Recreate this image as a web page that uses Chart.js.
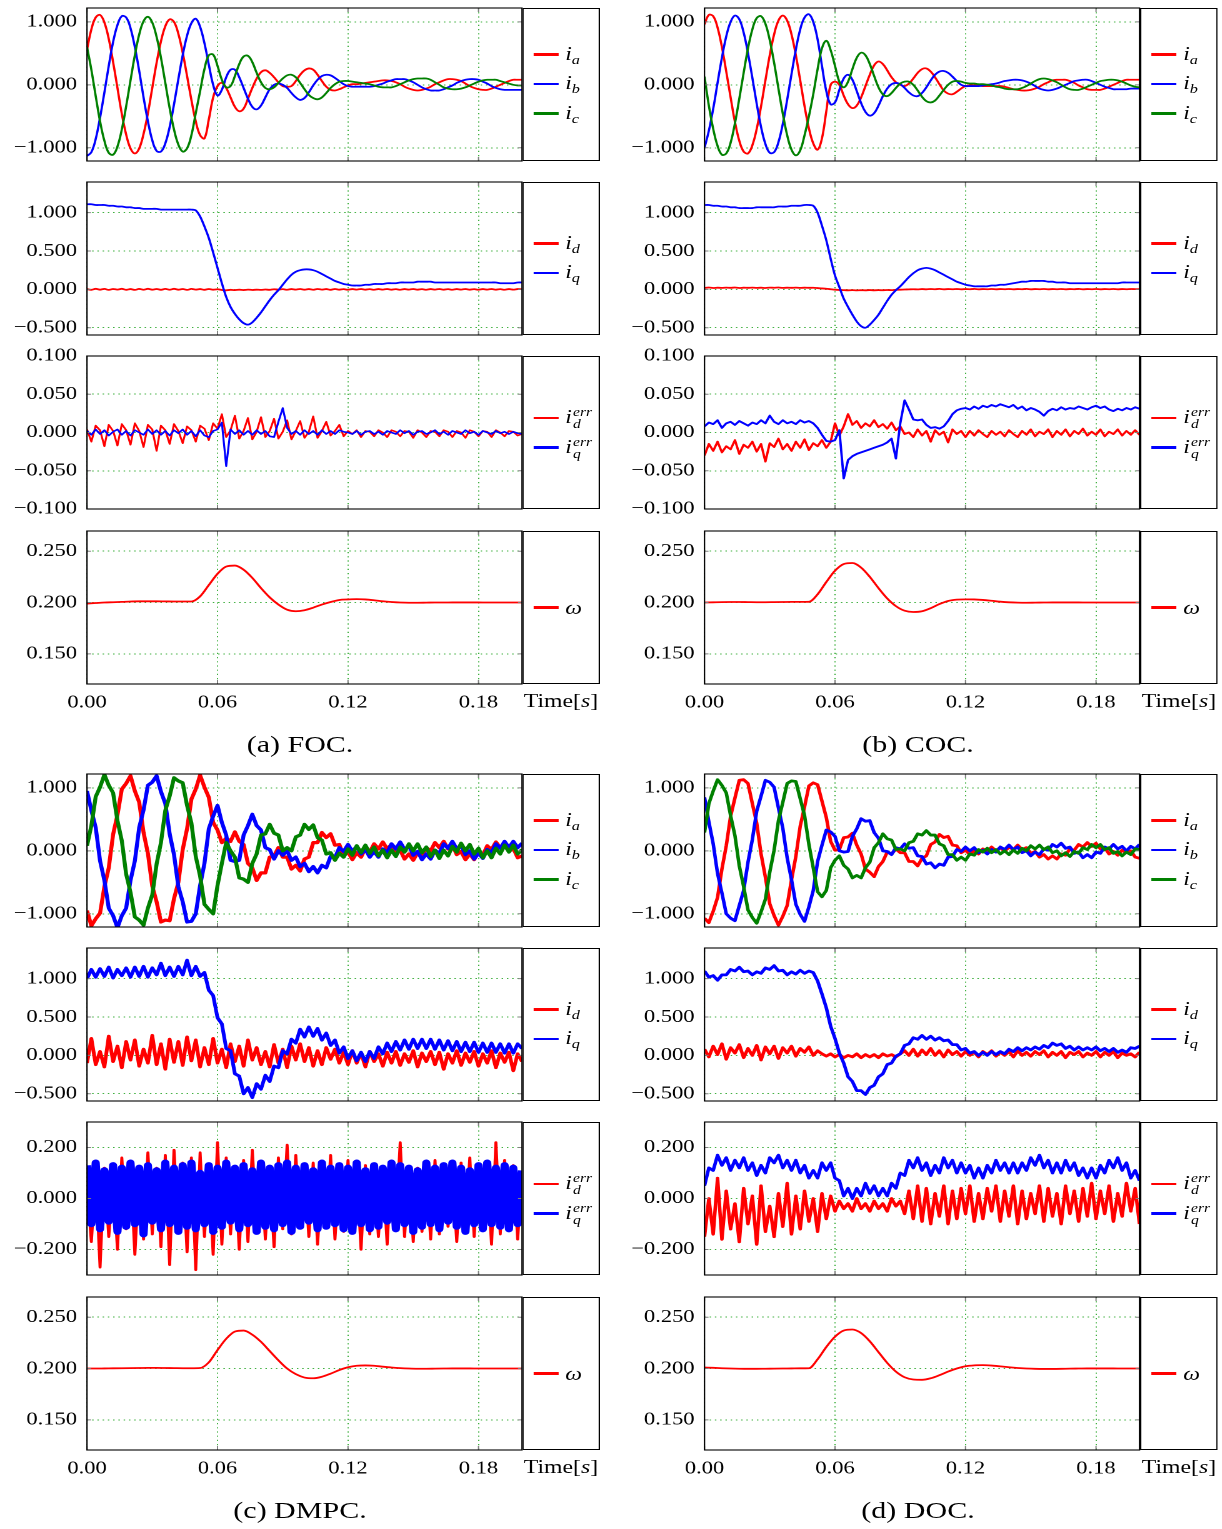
<!DOCTYPE html>
<html>
<head>
<meta charset="utf-8">
<title>Current and speed responses</title>
<script src="https://cdn.jsdelivr.net/npm/chart.js@4.4.1/dist/chart.umd.min.js"></script>
<style>
  html, body { margin: 0; padding: 0; background: #fff; }
  body { width: 1222px; height: 1529px; overflow: hidden; position: relative; }
  /* the whole figure is drawn narrow and widened by SX */
  #fig { position: absolute; left: 0; top: 0; width: 978px; height: 1529px;
         transform: scaleX(1.25); transform-origin: 0 0;
         font-family: "Liberation Serif", "Times New Roman", serif; color: #000; }
  #fig canvas { position: absolute; }
  .legend { position: absolute; box-sizing: border-box; border: 1px solid #000;
            display: flex; flex-direction: column; justify-content: center; }
  .entry { display: flex; align-items: center; height: 29.5px; }
  .swatch { display: inline-block; height: 2.4px; }
  .lab { font-size: 19px; line-height: 1; white-space: nowrap; }
  .lab i { font-style: italic; }
  .lab sub { font-size: 13px; font-style: italic; vertical-align: -4px; }
  .ss { display: inline-flex; flex-direction: column; font-style: italic; font-size: 12.5px;
        line-height: 12px; vertical-align: 7px; margin-left: 1px; }
  .time { position: absolute; text-align: center; font-size: 19px; line-height: 20px; }
  .caption { position: absolute; text-align: center; font-size: 24px; line-height: 28px; }
</style>
</head>
<body>
<div id="fig"></div>
<script>
// ---- time bases [s] ----
const t2 = [
  0.000, 0.002, 0.004, 0.006, 0.008, 0.010, 0.012, 0.014, 0.016, 0.018,
  0.020, 0.022, 0.024, 0.026, 0.028, 0.030, 0.032, 0.034, 0.036, 0.038,
  0.040, 0.042, 0.044, 0.046, 0.048, 0.050, 0.052, 0.054, 0.056, 0.058,
  0.060, 0.062, 0.064, 0.066, 0.068, 0.070, 0.072, 0.074, 0.076, 0.078,
  0.080, 0.082, 0.084, 0.086, 0.088, 0.090, 0.092, 0.094, 0.096, 0.098,
  0.100, 0.102, 0.104, 0.106, 0.108, 0.110, 0.112, 0.114, 0.116, 0.118,
  0.120, 0.122, 0.124, 0.126, 0.128, 0.130, 0.132, 0.134, 0.136, 0.138,
  0.140, 0.142, 0.144, 0.146, 0.148, 0.150, 0.152, 0.154, 0.156, 0.158,
  0.160, 0.162, 0.164, 0.166, 0.168, 0.170, 0.172, 0.174, 0.176, 0.178,
  0.180, 0.182, 0.184, 0.186, 0.188, 0.190, 0.192, 0.194, 0.196, 0.198,
  0.200
];
const t4 = [
  0.000, 0.004, 0.008, 0.012, 0.016, 0.020, 0.024, 0.028, 0.032, 0.036,
  0.040, 0.044, 0.048, 0.052, 0.056, 0.060, 0.064, 0.068, 0.072, 0.076,
  0.080, 0.084, 0.088, 0.092, 0.096, 0.100, 0.104, 0.108, 0.112, 0.116,
  0.120, 0.124, 0.128, 0.132, 0.136, 0.140, 0.144, 0.148, 0.152, 0.156,
  0.160, 0.164, 0.168, 0.172, 0.176, 0.180, 0.184, 0.188, 0.192, 0.196,
  0.200
];

// ---- FOC ----
const focIa = [
  0.56, 0.88, 1.07, 1.11, 0.99, 0.73, 0.36, -0.05, -0.46, -0.79,
  -1.01, -1.09, -1.01, -0.78, -0.45, -0.05, 0.35, 0.69, 0.93, 1.04,
  1.00, 0.81, 0.51, 0.14, -0.24, -0.58, -0.80, -0.85, -0.55, -0.20,
  -0.02, 0.03, -0.05, -0.20, -0.35, -0.42, -0.38, -0.22, -0.05, 0.10,
  0.20, 0.23, 0.19, 0.12, 0.04, -0.02, -0.03, -0.02, 0.06, 0.16,
  0.23, 0.26, 0.24, 0.16, 0.06, -0.03, -0.08, -0.09, -0.07, -0.04,
  -0.01, 0.01, 0.01, 0.02, 0.03, 0.04, 0.05, 0.06, 0.07, 0.07,
  0.06, 0.04, 0.01, -0.03, -0.06, -0.08, -0.09, -0.08, -0.06, -0.03,
  0.01, 0.04, 0.07, 0.09, 0.09, 0.08, 0.06, 0.02, -0.02, -0.05,
  -0.07, -0.08, -0.08, -0.06, -0.03, 0.00, 0.03, 0.06, 0.08, 0.08,
  0.08
];
const focIb = [
  -1.13, -1.07, -0.86, -0.52, -0.12, 0.30, 0.68, 0.95, 1.09, 1.07,
  0.90, 0.60, 0.22, -0.20, -0.58, -0.88, -1.05, -1.06, -0.93, -0.67,
  -0.31, 0.09, 0.47, 0.78, 0.98, 1.05, 0.92, 0.66, 0.32, 0.00,
  -0.17, -0.08, 0.12, 0.24, 0.24, 0.12, -0.05, -0.22, -0.35, -0.39,
  -0.33, -0.20, -0.07, 0.00, 0.02, 0.00, -0.05, -0.13, -0.20, -0.24,
  -0.21, -0.12, -0.01, 0.08, 0.14, 0.16, 0.15, 0.11, 0.06, 0.01,
  -0.02, -0.03, -0.03, -0.03, -0.03, -0.03, -0.02, 0.00, 0.02, 0.05,
  0.07, 0.09, 0.09, 0.09, 0.07, 0.04, 0.00, -0.04, -0.07, -0.09,
  -0.09, -0.09, -0.07, -0.04, -0.01, 0.03, 0.06, 0.08, 0.09, 0.09,
  0.08, 0.05, 0.02, -0.02, -0.05, -0.07, -0.08, -0.08, -0.08, -0.08,
  -0.08
];
const focIc = [
  0.60, 0.24, -0.18, -0.58, -0.89, -1.08, -1.11, -0.98, -0.71, -0.34,
  0.07, 0.47, 0.80, 1.01, 1.08, 0.99, 0.76, 0.43, 0.03, -0.37,
  -0.71, -0.95, -1.06, -1.01, -0.80, -0.45, -0.10, 0.25, 0.47, 0.48,
  0.30, 0.08, -0.04, -0.02, 0.14, 0.33, 0.45, 0.46, 0.36, 0.19,
  0.04, -0.05, -0.07, -0.04, 0.03, 0.10, 0.15, 0.16, 0.12, 0.03,
  -0.07, -0.16, -0.21, -0.23, -0.20, -0.13, -0.05, 0.01, 0.05, 0.06,
  0.06, 0.05, 0.04, 0.03, 0.02, 0.01, -0.01, -0.03, -0.04, -0.04,
  -0.04, -0.02, 0.01, 0.04, 0.07, 0.09, 0.10, 0.10, 0.10, 0.08,
  0.04, 0.00, -0.04, -0.06, -0.07, -0.07, -0.06, -0.04, -0.01, 0.02,
  0.05, 0.07, 0.08, 0.08, 0.08, 0.06, 0.04, 0.02, 0.00, -0.01,
  -0.01
];
const focId = [
  0.004, -0.006, 0.007, -0.004, 0.006, -0.007, 0.005, -0.003, 0.007, -0.006,
  0.004, -0.007, 0.006, -0.005, 0.007, -0.004, 0.005, -0.006, 0.006, -0.005,
  0.007, -0.004, 0.005, -0.007, 0.006, -0.003, 0.004, -0.006, 0.005, -0.004,
  0.002, -0.008, -0.012, -0.006, -0.010, -0.004, -0.009, -0.003, -0.008, -0.004,
  -0.007, -0.002, -0.006, 0.002, -0.004, 0.003, -0.005, 0.004, -0.003, 0.005,
  -0.004, 0.004, -0.005, 0.005, -0.003, 0.004, -0.006, 0.005, -0.004, 0.003,
  -0.005, 0.004, -0.003, 0.005, -0.004, 0.003, -0.005, 0.004, -0.003, 0.005,
  -0.004, 0.003, -0.005, 0.004, -0.003, 0.005, -0.004, 0.003, -0.005, 0.004,
  -0.003, 0.005, -0.004, 0.003, -0.005, 0.004, -0.003, 0.005, -0.004, 0.003,
  -0.005, 0.004, -0.003, 0.005, -0.004, 0.003, -0.005, 0.004, -0.003, 0.004,
  0.002
];
const focIq = [
  1.11, 1.11, 1.10, 1.10, 1.10, 1.09, 1.09, 1.08, 1.08, 1.07,
  1.07, 1.06, 1.06, 1.05, 1.05, 1.05, 1.05, 1.04, 1.04, 1.04,
  1.04, 1.04, 1.04, 1.04, 1.04, 1.03, 0.95, 0.82, 0.67, 0.48,
  0.28, 0.08, -0.10, -0.23, -0.32, -0.39, -0.44, -0.46, -0.43, -0.37,
  -0.30, -0.22, -0.14, -0.07, -0.01, 0.06, 0.13, 0.19, 0.23, 0.25,
  0.26, 0.26, 0.25, 0.23, 0.20, 0.17, 0.14, 0.11, 0.09, 0.07,
  0.06, 0.05, 0.05, 0.05, 0.06, 0.06, 0.07, 0.07, 0.07, 0.08,
  0.08, 0.08, 0.09, 0.09, 0.09, 0.09, 0.10, 0.10, 0.10, 0.10,
  0.09, 0.09, 0.09, 0.09, 0.09, 0.09, 0.09, 0.09, 0.09, 0.09,
  0.09, 0.09, 0.09, 0.09, 0.09, 0.08, 0.08, 0.08, 0.08, 0.09,
  0.09
];
const focIdErr = [
  0.004, -0.012, 0.009, 0.003, -0.018, 0.010, 0.002, -0.017, 0.011, 0.003,
  -0.016, 0.012, 0.002, -0.019, 0.010, 0.004, -0.024, 0.009, 0.003, -0.015,
  0.011, 0.002, -0.014, 0.008, 0.003, -0.012, 0.009, 0.005, -0.010, 0.012,
  0.005, 0.024, -0.006, 0.003, 0.022, -0.008, 0.002, 0.019, -0.009, 0.001,
  0.020, -0.006, 0.002, 0.018, -0.008, 0.001, 0.016, -0.009, 0.002, 0.015,
  -0.007, 0.001, 0.021, -0.007, 0.002, 0.014, -0.004, 0.002, 0.010, -0.005,
  0.002, -0.002, 0.003, -0.006, 0.002, 0.001, -0.005, 0.003, 0.000, -0.006,
  0.003, 0.001, -0.005, 0.002, 0.001, -0.007, 0.003, 0.000, -0.006, 0.002,
  0.001, -0.005, 0.003, 0.001, -0.006, 0.002, 0.000, -0.007, 0.003, 0.001,
  -0.005, 0.002, 0.001, -0.006, 0.003, 0.000, -0.005, 0.002, 0.001, -0.004,
  -0.002
];
const focIqErr = [
  0.002, -0.003, 0.004, -0.002, 0.003, -0.004, 0.001, 0.004, -0.003, 0.002,
  -0.004, 0.003, 0.000, -0.003, 0.004, -0.002, 0.003, -0.003, 0.002, -0.004,
  0.003, -0.001, 0.004, -0.003, 0.002, -0.005, 0.003, -0.004, -0.006, 0.002,
  0.004, 0.013, -0.044, 0.004, -0.002, 0.003, -0.003, 0.002, -0.003, 0.003,
  -0.002, 0.002, -0.005, -0.006, 0.014, 0.032, 0.006, -0.002, 0.002, -0.003,
  0.003, -0.002, 0.002, -0.003, 0.003, -0.002, 0.002, -0.002, 0.003, 0.001,
  0.000, -0.002, 0.002, -0.003, 0.001, 0.002, -0.002, 0.001, -0.003, 0.002,
  0.000, -0.002, 0.003, -0.001, 0.002, -0.003, 0.001, 0.002, -0.002, 0.000,
  0.003, -0.002, 0.001, -0.003, 0.002, 0.000, -0.002, 0.003, -0.001, 0.001,
  -0.003, 0.002, 0.000, -0.002, 0.002, -0.001, 0.001, -0.002, 0.001, -0.001,
  -0.002
];
const focW = [
  0.1990, 0.1995, 0.2000, 0.2003, 0.2006, 0.2010, 0.2012, 0.2012, 0.2012, 0.2011,
  0.2010, 0.2010, 0.2010, 0.2060, 0.2170, 0.2280, 0.2350, 0.2360, 0.2320, 0.2240,
  0.2140, 0.2050, 0.1980, 0.1930, 0.1915, 0.1925, 0.1950, 0.1980, 0.2005, 0.2025,
  0.2030, 0.2033, 0.2030, 0.2022, 0.2012, 0.2005, 0.2000, 0.1998, 0.1998, 0.1999,
  0.2000, 0.2000, 0.2001, 0.2001, 0.2001, 0.2001, 0.2000, 0.2000, 0.2000, 0.2000,
  0.2000
];

// ---- COC ----
const cocIa = [
  0.96, 1.11, 1.09, 0.91, 0.60, 0.21, -0.20, -0.59, -0.89, -1.06,
  -1.09, -0.96, -0.70, -0.34, 0.07, 0.47, 0.80, 1.02, 1.10, 1.02,
  0.80, 0.47, 0.07, -0.34, -0.69, -0.93, -1.03, -0.85, -0.42, 0.00,
  0.05, 0.00, -0.17, -0.31, -0.37, -0.33, -0.20, -0.02, 0.16, 0.31,
  0.37, 0.33, 0.23, 0.12, 0.04, 0.00, -0.02, 0.02, 0.10, 0.19,
  0.25, 0.26, 0.21, 0.12, 0.01, -0.09, -0.14, -0.15, -0.11, -0.06,
  -0.02, -0.01, -0.01, -0.01, -0.02, -0.02, -0.02, -0.02, -0.02, -0.03,
  -0.05, -0.07, -0.08, -0.09, -0.09, -0.08, -0.06, -0.03, 0.01, 0.04,
  0.07, 0.08, 0.08, 0.08, 0.06, 0.03, -0.01, -0.04, -0.07, -0.08,
  -0.08, -0.08, -0.06, -0.03, 0.00, 0.03, 0.06, 0.08, 0.08, 0.08,
  0.08
];
const cocIb = [
  -1.00, -0.73, -0.38, 0.03, 0.43, 0.77, 1.00, 1.10, 1.04, 0.83,
  0.50, 0.11, -0.30, -0.67, -0.94, -1.08, -1.07, -0.91, -0.62, -0.24,
  0.17, 0.56, 0.88, 1.07, 1.12, 1.00, 0.72, 0.30, -0.10, -0.31,
  -0.28, -0.08, 0.10, 0.16, 0.08, -0.10, -0.29, -0.43, -0.49, -0.45,
  -0.33, -0.18, -0.06, 0.01, 0.03, 0.01, -0.05, -0.12, -0.17, -0.18,
  -0.13, -0.04, 0.07, 0.16, 0.21, 0.22, 0.19, 0.13, 0.06, 0.00,
  -0.02, -0.02, -0.02, -0.02, -0.01, 0.00, 0.01, 0.02, 0.04, 0.06,
  0.07, 0.08, 0.08, 0.07, 0.05, 0.02, -0.02, -0.06, -0.08, -0.09,
  -0.08, -0.06, -0.03, 0.00, 0.03, 0.06, 0.07, 0.08, 0.08, 0.06,
  0.03, 0.00, -0.03, -0.05, -0.07, -0.07, -0.07, -0.07, -0.06, -0.06,
  -0.06
];
const cocIc = [
  0.13, -0.33, -0.70, -0.97, -1.11, -1.09, -0.92, -0.61, -0.22, 0.19,
  0.58, 0.88, 1.06, 1.09, 0.97, 0.71, 0.35, -0.06, -0.46, -0.80,
  -1.03, -1.12, -1.04, -0.80, -0.50, -0.15, 0.25, 0.58, 0.70, 0.55,
  0.30, 0.05, -0.04, 0.05, 0.25, 0.43, 0.51, 0.47, 0.33, 0.14,
  -0.04, -0.15, -0.18, -0.13, -0.05, 0.02, 0.05, 0.05, 0.00, -0.09,
  -0.19, -0.26, -0.28, -0.25, -0.17, -0.08, 0.00, 0.05, 0.06, 0.05,
  0.03, 0.02, 0.02, 0.01, 0.01, 0.00, -0.01, -0.03, -0.04, -0.06,
  -0.07, -0.07, -0.07, -0.05, -0.02, 0.02, 0.06, 0.09, 0.10, 0.09,
  0.07, 0.04, 0.00, -0.04, -0.07, -0.08, -0.08, -0.06, -0.03, 0.00,
  0.03, 0.06, 0.07, 0.08, 0.08, 0.07, 0.05, 0.02, -0.01, -0.03,
  -0.04
];
const cocId = [
  0.020, 0.024, 0.018, 0.022, 0.019, 0.023, 0.020, 0.024, 0.018, 0.022,
  0.020, 0.023, 0.019, 0.022, 0.018, 0.023, 0.021, 0.024, 0.019, 0.022,
  0.020, 0.023, 0.019, 0.022, 0.020, 0.021, 0.017, 0.012, 0.008, 0.002,
  -0.004, -0.008, -0.010, -0.012, -0.010, -0.013, -0.011, -0.012, -0.009, -0.012,
  -0.010, -0.011, -0.008, -0.010, -0.006, -0.004, -0.002, 0.000, 0.002, 0.000,
  0.004, 0.001, 0.005, 0.002, 0.006, 0.001, 0.004, 0.002, 0.005, 0.001,
  0.004, 0.002, 0.006, 0.001, 0.004, 0.002, 0.005, 0.001, 0.004, 0.002,
  0.005, 0.001, 0.004, 0.002, 0.006, 0.001, 0.004, 0.002, 0.005, 0.001,
  0.004, 0.002, 0.005, 0.001, 0.004, 0.002, 0.006, 0.001, 0.004, 0.002,
  0.005, 0.001, 0.004, 0.002, 0.005, 0.001, 0.004, 0.002, 0.005, 0.003,
  0.004
];
const cocIq = [
  1.10, 1.10, 1.09, 1.09, 1.08, 1.08, 1.07, 1.07, 1.06, 1.06,
  1.06, 1.06, 1.07, 1.07, 1.07, 1.07, 1.07, 1.08, 1.08, 1.08,
  1.09, 1.09, 1.09, 1.10, 1.10, 1.09, 1.00, 0.83, 0.64, 0.40,
  0.18, 0.03, -0.12, -0.23, -0.33, -0.42, -0.48, -0.50, -0.46, -0.40,
  -0.33, -0.24, -0.15, -0.07, -0.01, 0.04, 0.10, 0.16, 0.21, 0.25,
  0.27, 0.28, 0.27, 0.25, 0.22, 0.19, 0.16, 0.13, 0.10, 0.08,
  0.06, 0.05, 0.04, 0.04, 0.04, 0.04, 0.05, 0.05, 0.06, 0.06,
  0.07, 0.08, 0.09, 0.10, 0.10, 0.11, 0.11, 0.11, 0.11, 0.10,
  0.10, 0.09, 0.09, 0.09, 0.08, 0.08, 0.08, 0.08, 0.08, 0.08,
  0.08, 0.08, 0.08, 0.08, 0.08, 0.08, 0.09, 0.09, 0.09, 0.09,
  0.09
];
const cocIdErr = [
  -0.030, -0.015, -0.024, -0.012, -0.026, -0.018, -0.022, -0.010, -0.028, -0.016,
  -0.020, -0.012, -0.025, -0.015, -0.038, -0.014, -0.019, -0.008, -0.022, -0.015,
  -0.024, -0.012, -0.020, -0.009, -0.023, -0.014, -0.018, -0.010, -0.020, -0.012,
  0.012, -0.004, 0.008, 0.024, 0.010, 0.015, 0.006, 0.012, 0.008, 0.016,
  0.007, 0.011, 0.005, 0.013, 0.003, 0.008, -0.002, 0.000, -0.006, 0.004,
  -0.004, 0.002, -0.012, 0.003, -0.003, 0.001, -0.013, 0.004, -0.002, 0.002,
  -0.006, 0.002, -0.004, 0.003, -0.002, -0.006, 0.002, -0.003, 0.001, -0.005,
  0.003, -0.002, -0.006, 0.002, -0.003, 0.004, -0.005, 0.001, -0.002, 0.004,
  -0.006, 0.002, -0.003, 0.004, -0.005, 0.002, -0.002, 0.005, -0.004, 0.001,
  -0.003, 0.004, -0.005, 0.001, -0.002, 0.004, -0.004, 0.002, -0.003, 0.003,
  -0.003
];
const cocIqErr = [
  0.008, 0.013, 0.011, 0.016, 0.006, 0.012, 0.014, 0.010, 0.015, 0.012,
  0.009, 0.013, 0.011, 0.016, 0.012, 0.022, 0.014, 0.011, 0.016, 0.012,
  0.014, 0.011, 0.016, 0.013, 0.015, 0.012, 0.006, -0.003, -0.011, -0.012,
  -0.010, 0.003, -0.060, -0.036, -0.031, -0.028, -0.026, -0.024, -0.022, -0.020,
  -0.018, -0.016, -0.013, -0.008, -0.034, 0.012, 0.042, 0.030, 0.017, 0.016,
  0.017, 0.010, 0.006, 0.007, 0.005, 0.008, 0.015, 0.024, 0.029, 0.031,
  0.032, 0.030, 0.034, 0.031, 0.035, 0.033, 0.036, 0.034, 0.037, 0.035,
  0.033, 0.036, 0.031, 0.034, 0.029, 0.032, 0.030, 0.027, 0.022, 0.028,
  0.031, 0.029, 0.033, 0.030, 0.032, 0.031, 0.034, 0.032, 0.030, 0.033,
  0.035, 0.032, 0.034, 0.030, 0.028, 0.031, 0.029, 0.032, 0.030, 0.033,
  0.031
];
const cocW = [
  0.2000, 0.2002, 0.2004, 0.2005, 0.2005, 0.2004, 0.2003, 0.2003, 0.2004, 0.2005,
  0.2006, 0.2006, 0.2007, 0.2080, 0.2200, 0.2310, 0.2375, 0.2385, 0.2340, 0.2250,
  0.2140, 0.2040, 0.1965, 0.1920, 0.1908, 0.1915, 0.1945, 0.1985, 0.2015, 0.2028,
  0.2031, 0.2030, 0.2025, 0.2017, 0.2008, 0.2002, 0.1999, 0.1998, 0.1999, 0.2000,
  0.2001, 0.2001, 0.2001, 0.2001, 0.2000, 0.2000, 0.2000, 0.2000, 0.2000, 0.2000,
  0.2000
];

// ---- DMPC ----
const dmpcIa = [
  -0.95, -1.19, -1.08, -0.99, -0.57, -0.27, 0.26, 0.57, 0.98, 1.07,
  1.19, 0.95, 0.77, 0.29, -0.04, -0.56, -0.81, -1.13, -1.10, -1.11,
  -0.76, -0.50, 0.02, 0.35, 0.82, 0.98, 1.20, 1.01, 0.85, 0.45,
  0.33, 0.13, 0.20, 0.15, 0.30, 0.15, 0.10, -0.20, -0.27, -0.47,
  -0.35, -0.35, -0.10, -0.08, 0.05, -0.10, -0.10, -0.29, -0.23, -0.32,
  -0.13, -0.10, 0.13, 0.13, 0.29, 0.21, 0.27, 0.09, 0.10, -0.08,
  -0.02, -0.14, -0.03, -0.10, 0.04, -0.02, 0.11, 0.03, 0.14, 0.03,
  0.10, -0.04, 0.01, -0.13, -0.05, -0.15, -0.03, -0.09, 0.05, 0.00,
  0.13, 0.05, 0.15, 0.03, 0.09, -0.06, -0.01, -0.14, -0.05, -0.14,
  -0.01, -0.07, 0.08, 0.02, 0.14, 0.05, 0.13, -0.01, 0.04, -0.11,
  -0.08
];
const dmpcIb = [
  0.95, 0.64, 0.37, -0.16, -0.47, -0.91, -1.03, -1.22, -1.03, -0.91,
  -0.47, -0.16, 0.37, 0.65, 1.04, 1.09, 1.19, 0.94, 0.75, 0.27,
  -0.06, -0.57, -0.81, -1.13, -1.12, -1.00, -0.55, -0.20, 0.35, 0.55,
  0.72, 0.45, 0.25, -0.15, -0.17, -0.15, 0.25, 0.40, 0.58, 0.40,
  0.33, 0.05, 0.02, -0.13, 0.00, -0.07, 0.00, -0.15, -0.10, -0.25,
  -0.20, -0.33, -0.25, -0.35, -0.23, -0.27, -0.09, -0.11, 0.05, -0.01,
  0.10, -0.01, 0.07, -0.05, 0.02, -0.10, -0.01, -0.10, 0.03, -0.03,
  0.11, 0.03, 0.14, 0.02, 0.08, -0.07, -0.01, -0.14, -0.05, -0.13,
  0.01, -0.04, 0.11, 0.04, 0.15, 0.03, 0.09, -0.06, 0.00, -0.13,
  -0.04, -0.12, 0.02, -0.03, 0.11, 0.04, 0.15, 0.05, 0.15, 0.05,
  0.12
];
const dmpcIc = [
  0.08, 0.40, 0.86, 1.01, 1.21, 1.04, 0.92, 0.48, 0.16, -0.37,
  -0.66, -1.05, -1.10, -1.18, -0.91, -0.70, -0.21, 0.13, 0.64, 0.87,
  1.16, 1.11, 1.08, 0.72, 0.44, -0.09, -0.40, -0.85, -0.93, -1.00,
  -0.55, -0.20, 0.13, 0.00, -0.10, -0.43, -0.45, -0.50, -0.20, -0.05,
  0.25, 0.27, 0.42, 0.28, 0.25, 0.00, 0.05, 0.00, 0.22, 0.25,
  0.42, 0.34, 0.41, 0.21, 0.17, -0.05, -0.03, -0.15, -0.04, -0.10,
  0.03, -0.07, 0.08, -0.03, 0.09, -0.04, 0.06, -0.08, 0.01, -0.11,
  0.01, -0.09, 0.06, -0.02, 0.11, 0.00, 0.11, -0.03, 0.06, -0.09,
  0.01, -0.12, 0.01, -0.08, 0.07, -0.02, 0.12, 0.00, 0.10, -0.05,
  0.04, -0.11, 0.00, -0.11, 0.04, -0.05, 0.09, -0.02, 0.09, -0.05,
  0.02
];
const dmpcId = [
  -0.10, 0.22, -0.12, 0.05, -0.15, 0.25, -0.08, 0.12, -0.16, 0.18,
  -0.06, 0.20, -0.14, 0.08, -0.10, 0.26, -0.12, 0.15, -0.18, 0.21,
  -0.09, 0.18, -0.13, 0.24, -0.07, 0.20, -0.15, 0.10, -0.12, 0.22,
  -0.10, 0.08, -0.16, 0.15, -0.08, 0.12, -0.14, 0.20, -0.06, 0.10,
  -0.12, 0.05, -0.15, 0.14, -0.10, 0.08, -0.16, 0.12, -0.06, 0.15,
  -0.08, 0.10, -0.14, 0.06, -0.12, 0.10, -0.05, 0.08, -0.10, 0.04,
  -0.12, 0.06, -0.10, 0.03, -0.15, 0.05, -0.08, 0.02, -0.14, 0.04,
  -0.10, 0.05, -0.13, 0.02, -0.09, 0.06, -0.15, 0.03, -0.08, 0.05,
  -0.12, 0.04, -0.18, 0.02, -0.10, 0.06, -0.13, 0.03, -0.09, 0.05,
  -0.14, 0.02, -0.10, 0.06, -0.16, 0.03, -0.09, 0.04, -0.20, 0.02,
  -0.08
];
const dmpcIq = [
  1.00, 1.12, 1.02, 1.13, 1.03, 1.15, 1.01, 1.12, 1.04, 1.14,
  1.02, 1.15, 1.03, 1.16, 1.02, 1.14, 1.05, 1.20, 1.04, 1.15,
  1.03, 1.16, 1.05, 1.24, 1.04, 1.16, 1.03, 1.08, 0.85, 0.78,
  0.49, 0.41, 0.09, 0.06, -0.24, -0.27, -0.50, -0.42, -0.55, -0.37,
  -0.44, -0.26, -0.34, -0.14, -0.16, 0.06, 0.02, 0.21, 0.16, 0.34,
  0.24, 0.37, 0.25, 0.35, 0.20, 0.29, 0.13, 0.20, 0.03, 0.11,
  -0.04, 0.06, -0.07, 0.04, -0.08, 0.05, -0.04, 0.11, 0.02, 0.16,
  0.05, 0.18, 0.07, 0.20, 0.08, 0.21, 0.09, 0.21, 0.09, 0.21,
  0.08, 0.20, 0.07, 0.19, 0.06, 0.18, 0.05, 0.17, 0.05, 0.17,
  0.04, 0.16, 0.04, 0.16, 0.04, 0.15, 0.03, 0.15, 0.03, 0.15,
  0.09
];
const dmpcIdErr = [
  0.05, -0.17, 0.10, -0.27, 0.12, -0.15, 0.08, -0.20, 0.16, -0.12,
  0.13, -0.22, 0.10, -0.16, 0.18, -0.14, 0.12, -0.19, 0.17, -0.26,
  0.19, -0.12, 0.14, -0.21, 0.16, -0.28, 0.18, -0.15, 0.12, -0.22,
  0.22, -0.18, 0.16, -0.14, 0.12, -0.20, 0.15, -0.17, 0.19, -0.11,
  0.13, -0.16, 0.10, -0.19, 0.16, -0.12, 0.21, -0.14, 0.17, -0.10,
  0.12, -0.15, 0.14, -0.18, 0.09, -0.11, 0.17, -0.16, 0.10, -0.13,
  0.15, -0.12, 0.11, -0.20, 0.13, -0.14, 0.09, -0.15, 0.12, -0.18,
  0.14, -0.10, 0.22, -0.15, 0.10, -0.17, 0.12, -0.13, 0.11, -0.16,
  0.15, -0.14, 0.13, -0.11, 0.10, -0.17, 0.14, -0.12, 0.16, -0.15,
  0.13, -0.11, 0.10, -0.18, 0.22, -0.14, 0.15, -0.12, 0.13, -0.16,
  0.10
];
const dmpcIqErr = [
  0.13, -0.10, 0.14, -0.12, 0.11, -0.09, 0.13, -0.13, 0.12, -0.11,
  0.14, -0.10, 0.12, -0.14, 0.13, -0.09, 0.11, -0.12, 0.14, -0.10,
  0.12, -0.13, 0.13, -0.11, 0.14, -0.12, 0.10, -0.10, 0.13, -0.13,
  0.12, -0.11, 0.14, -0.09, 0.12, -0.12, 0.13, -0.10, 0.11, -0.13,
  0.14, -0.11, 0.12, -0.12, 0.13, -0.10, 0.14, -0.13, 0.12, -0.11,
  0.13, -0.09, 0.11, -0.12, 0.14, -0.11, 0.12, -0.10, 0.13, -0.12,
  0.12, -0.13, 0.14, -0.10, 0.11, -0.12, 0.13, -0.11, 0.12, -0.09,
  0.14, -0.12, 0.13, -0.10, 0.12, -0.13, 0.11, -0.11, 0.14, -0.10,
  0.12, -0.12, 0.13, -0.09, 0.14, -0.11, 0.12, -0.13, 0.11, -0.10,
  0.13, -0.12, 0.14, -0.10, 0.12, -0.11, 0.13, -0.12, 0.12, -0.10,
  0.11
];
const dmpcW = [
  0.2000, 0.2000, 0.2001, 0.2002, 0.2003, 0.2004, 0.2005, 0.2006, 0.2006, 0.2005,
  0.2004, 0.2003, 0.2003, 0.2005, 0.2060, 0.2180, 0.2290, 0.2360, 0.2370, 0.2330,
  0.2260, 0.2170, 0.2080, 0.2000, 0.1945, 0.1912, 0.1905, 0.1920, 0.1950, 0.1985,
  0.2012, 0.2027, 0.2030, 0.2027, 0.2018, 0.2010, 0.2004, 0.2000, 0.1998, 0.1998,
  0.1999, 0.2000, 0.2001, 0.2001, 0.2001, 0.2000, 0.2000, 0.2000, 0.2000, 0.2000,
  0.2000
];

// ---- DOC ----
const docIa = [
  -1.07, -1.14, -0.96, -0.74, -0.29, 0.08, 0.55, 0.84, 1.12, 1.13,
  1.07, 0.75, 0.44, -0.05, -0.42, -0.84, -1.03, -1.18, -1.04, -0.87,
  -0.46, -0.09, 0.39, 0.70, 1.03, 1.08, 1.05, 0.79, 0.53, 0.15,
  0.01, 0.02, 0.21, 0.22, 0.28, 0.09, -0.05, -0.29, -0.34, -0.41,
  -0.25, -0.17, -0.02, -0.05, 0.03, -0.03, -0.03, -0.17, -0.17, -0.24,
  -0.12, -0.08, 0.10, 0.14, 0.26, 0.21, 0.23, 0.09, 0.08, -0.03,
  0.01, -0.06, 0.00, -0.05, 0.03, -0.01, 0.06, 0.00, 0.05, -0.01,
  0.06, 0.02, 0.09, 0.02, 0.05, -0.04, -0.01, -0.10, -0.06, -0.13,
  -0.08, -0.13, -0.05, -0.07, 0.03, 0.01, 0.10, 0.06, 0.13, 0.07,
  0.12, 0.03, 0.05, -0.05, -0.01, -0.07, 0.01, -0.03, 0.00, -0.10,
  -0.12
];
const docIb = [
  0.85, 0.46, 0.11, -0.36, -0.67, -1.00, -1.07, -1.11, -0.87, -0.63,
  -0.18, 0.18, 0.63, 0.87, 1.12, 1.09, 1.01, 0.68, 0.36, -0.11,
  -0.46, -0.85, -1.01, -1.12, -0.89, -0.63, -0.17, 0.09, 0.33, 0.30,
  0.23, 0.00, -0.02, -0.01, 0.23, 0.35, 0.51, 0.47, 0.48, 0.29,
  0.20, 0.00, -0.01, -0.06, 0.05, 0.03, 0.11, 0.04, 0.05, -0.08,
  -0.09, -0.21, -0.19, -0.27, -0.21, -0.23, -0.10, -0.09, 0.02, -0.01,
  0.06, 0.00, 0.05, -0.03, 0.01, -0.05, 0.02, -0.02, 0.06, 0.02,
  0.09, 0.02, 0.06, -0.03, 0.00, -0.08, -0.02, -0.06, 0.03, 0.01,
  0.10, 0.06, 0.12, 0.04, 0.06, -0.04, -0.02, -0.11, -0.06, -0.11,
  -0.02, -0.04, 0.06, 0.03, 0.10, 0.03, 0.07, 0.00, 0.07, 0.03,
  0.10
];
const docIc = [
  0.29, 0.75, 0.95, 1.13, 1.04, 0.92, 0.56, 0.24, -0.24, -0.57,
  -0.94, -1.06, -1.15, -0.97, -0.77, -0.34, 0.01, 0.48, 0.77, 1.07,
  1.11, 1.10, 0.83, 0.56, 0.10, -0.27, -0.65, -0.73, -0.63, -0.27,
  -0.15, -0.08, -0.23, -0.29, -0.43, -0.39, -0.43, -0.27, -0.18, 0.05,
  0.13, 0.27, 0.19, 0.17, 0.02, 0.03, 0.00, 0.13, 0.15, 0.27,
  0.25, 0.32, 0.25, 0.25, 0.11, 0.08, -0.06, -0.06, -0.15, -0.10,
  -0.15, -0.05, -0.07, 0.02, -0.02, 0.04, -0.03, 0.02, -0.05, 0.00,
  -0.06, 0.01, -0.04, 0.04, 0.00, 0.08, 0.03, 0.09, 0.02, 0.06,
  -0.03, 0.00, -0.08, -0.03, -0.09, -0.01, -0.04, 0.05, 0.02, 0.10,
  0.05, 0.10, 0.02, 0.05, -0.04, -0.01, -0.08, -0.02, -0.06, 0.03,
  0.02
];
const docId = [
  0.08, -0.02, 0.12, 0.01, 0.15, -0.05, 0.10, 0.03, 0.14, -0.03,
  0.09, 0.00, 0.13, -0.06, 0.11, 0.02, 0.12, -0.04, 0.10, 0.03,
  0.12, -0.01, 0.09, 0.04, 0.11, 0.00, 0.06, 0.02, -0.01, 0.02,
  -0.02, 0.01, -0.03, 0.00, -0.02, 0.02, -0.03, 0.01, -0.02, 0.01,
  -0.03, 0.02, -0.01, 0.01, -0.02, 0.02, 0.06, 0.00, 0.08, -0.01,
  0.07, 0.01, 0.09, 0.00, 0.06, -0.02, 0.07, 0.01, 0.05, -0.01,
  0.05, 0.00, 0.04, -0.02, 0.05, 0.01, 0.06, -0.01, 0.04, 0.00,
  0.05, -0.02, 0.06, 0.00, 0.04, -0.01, 0.05, 0.01, 0.06, -0.02,
  0.04, 0.00, 0.05, -0.03, 0.04, 0.01, 0.05, -0.02, 0.03, 0.00,
  0.05, -0.02, 0.04, 0.00, 0.05, -0.03, 0.03, 0.00, 0.02, -0.02,
  0.04
];
const docIq = [
  1.10, 1.02, 1.04, 0.98, 1.05, 1.05, 1.12, 1.10, 1.15, 1.09,
  1.10, 1.05, 1.09, 1.07, 1.14, 1.12, 1.17, 1.10, 1.11, 1.05,
  1.09, 1.06, 1.11, 1.07, 1.10, 1.08, 0.97, 0.80, 0.62, 0.38,
  0.22, 0.03, -0.10, -0.28, -0.34, -0.46, -0.46, -0.51, -0.42, -0.39,
  -0.28, -0.24, -0.12, -0.10, -0.01, 0.02, 0.13, 0.15, 0.23, 0.21,
  0.26, 0.21, 0.25, 0.20, 0.23, 0.19, 0.20, 0.14, 0.14, 0.07,
  0.09, 0.03, 0.05, 0.00, 0.04, 0.00, 0.05, 0.01, 0.05, 0.02,
  0.08, 0.05, 0.10, 0.06, 0.10, 0.07, 0.11, 0.08, 0.13, 0.10,
  0.16, 0.13, 0.15, 0.09, 0.12, 0.07, 0.11, 0.07, 0.10, 0.07,
  0.11, 0.06, 0.09, 0.05, 0.09, 0.04, 0.07, 0.04, 0.10, 0.09,
  0.12
];
const docIdErr = [
  -0.15, 0.00, -0.14, 0.08, -0.16, 0.03, -0.12, -0.02, -0.17, 0.04,
  -0.10, 0.01, -0.18, 0.05, -0.13, -0.03, -0.15, 0.02, -0.11, 0.06,
  -0.14, 0.01, -0.12, 0.03, -0.09, 0.00, -0.13, 0.02, -0.08, 0.01,
  -0.05, -0.01, -0.04, -0.02, -0.05, 0.00, -0.04, -0.02, -0.05, -0.01,
  -0.04, -0.02, -0.05, 0.00, -0.03, -0.01, -0.06, 0.03, -0.08, 0.05,
  -0.09, 0.04, -0.10, 0.02, -0.07, 0.05, -0.10, 0.03, -0.08, 0.04,
  -0.06, 0.05, -0.09, 0.02, -0.08, 0.04, -0.05, 0.05, -0.09, 0.03,
  -0.07, 0.05, -0.10, 0.03, -0.08, 0.02, -0.06, 0.05, -0.09, 0.04,
  -0.07, 0.02, -0.10, 0.05, -0.06, 0.03, -0.09, 0.04, -0.07, 0.06,
  -0.08, 0.03, -0.06, 0.05, -0.09, 0.02, -0.07, 0.06, -0.05, 0.04,
  -0.10
];
const docIqErr = [
  0.05, 0.12, 0.11, 0.17, 0.13, 0.16, 0.11, 0.15, 0.12, 0.16,
  0.11, 0.14, 0.09, 0.13, 0.10, 0.16, 0.14, 0.17, 0.12, 0.15,
  0.11, 0.15, 0.10, 0.13, 0.08, 0.11, 0.08, 0.14, 0.11, 0.14,
  0.08, 0.07, 0.01, 0.04, 0.00, 0.04, 0.01, 0.06, 0.02, 0.05,
  0.01, 0.04, 0.01, 0.06, 0.04, 0.10, 0.09, 0.15, 0.12, 0.16,
  0.11, 0.14, 0.09, 0.13, 0.10, 0.16, 0.12, 0.15, 0.10, 0.14,
  0.10, 0.13, 0.08, 0.12, 0.08, 0.13, 0.10, 0.15, 0.11, 0.14,
  0.10, 0.14, 0.10, 0.14, 0.11, 0.16, 0.13, 0.17, 0.12, 0.15,
  0.10, 0.14, 0.10, 0.15, 0.11, 0.14, 0.09, 0.12, 0.08, 0.12,
  0.08, 0.13, 0.10, 0.15, 0.12, 0.16, 0.11, 0.14, 0.08, 0.11,
  0.07
];
const docW = [
  0.2010, 0.2007, 0.2003, 0.2000, 0.1998, 0.1997, 0.1997, 0.1998, 0.1999, 0.2000,
  0.2001, 0.2002, 0.2003, 0.2090, 0.2210, 0.2310, 0.2370, 0.2380, 0.2345, 0.2265,
  0.2160, 0.2055, 0.1970, 0.1915, 0.1893, 0.1890, 0.1905, 0.1935, 0.1970, 0.2000,
  0.2022, 0.2031, 0.2033, 0.2029, 0.2021, 0.2012, 0.2005, 0.2000, 0.1997, 0.1996,
  0.1996, 0.1997, 0.1999, 0.2000, 0.2001, 0.2001, 0.2001, 0.2001, 0.2000, 0.2000,
  0.2000
];

// ---- axis ticks ----
const xTicks = [0, 0.06, 0.12, 0.18];
const abcTicks = [-1, 0, 1];
const dqTicks = [-0.5, 0, 0.5, 1];
const errTicksSmall = [-0.1, -0.05, 0, 0.05, 0.1];
const errTicksLarge = [-0.2, 0, 0.2];
const wTicks = [0.15, 0.2, 0.25];

// ---- layout (page pixels) ----
const SX = 1.25;               // horizontal widening of the figure
const Y_AXIS_W = 87, PLOT_W = 435, LEG_W = 78;
const BOX_H = 153, ROW_STEP = 174.45, PAD = 12, X_AXIS_H = 36;
const PANEL_X = [0, 618], PANEL_Y = [7.5, 773.5];

const RED = '#ff0000', BLUE = '#0000ff', GREEN = '#008000';
const GRID = 'rgba(0, 150, 0, 0.75)';
const TICK_FONT = { family: '"Liberation Serif", "Times New Roman", serif', size: 18 };

// width may be one number for all series or one per series
function abcRows(a, b, c, width) {
  return { t: t2, range: [-1.21, 1.22], ticks: abcTicks, digits: 3, tension: width > 2 ? 0 : 0.4,
           width, series: [[a, RED, 'a'], [b, BLUE, 'b'], [c, GREEN, 'c']] };
}
function dqRows(d, q, width) {
  return { t: t2, range: [-0.595, 1.4], ticks: dqTicks, digits: 3, tension: width > 2 ? 0 : 0.3,
           width, series: [[d, RED, 'd'], [q, BLUE, 'q']] };
}
function errRows(d, q, ticks, range, width) {
  return { t: t2, range, ticks, digits: 3, tension: 0, width, err: true,
           series: [[d, RED, 'd'], [q, BLUE, 'q']] };
}
function wRows(w) {
  return { t: t4, range: [0.1206, 0.2697], ticks: wTicks, digits: 3, mono: true, width: 1.8,
           series: [[w, RED, 'w']] };
}

const panels = [
  { col: 0, row: 0, caption: '(a) FOC.', plots: [
    abcRows(focIa, focIb, focIc, 1.8), dqRows(focId, focIq, 1.8),
    errRows(focIdErr, focIqErr, errTicksSmall, [-0.1, 0.1], 1.6), wRows(focW) ] },
  { col: 1, row: 0, caption: '(b) COC.', plots: [
    abcRows(cocIa, cocIb, cocIc, 1.8), dqRows(cocId, cocIq, 1.8),
    errRows(cocIdErr, cocIqErr, errTicksSmall, [-0.1, 0.1], 1.9), wRows(cocW) ] },
  { col: 0, row: 1, caption: '(c) DMPC.', plots: [
    abcRows(dmpcIa, dmpcIb, dmpcIc, 3.2), dqRows(dmpcId, dmpcIq, 3.0),
    errRows(dmpcIdErr, dmpcIqErr, errTicksLarge, [-0.3, 0.3], [2.4, 6.5]), wRows(dmpcW) ] },
  { col: 1, row: 1, caption: '(d) DOC.', plots: [
    abcRows(docIa, docIb, docIc, 2.8), dqRows(docId, docIq, 2.8),
    errRows(docIdErr, docIqErr, errTicksLarge, [-0.3, 0.3], 2.8), wRows(docW) ] }
];

function fmtTick(v, digits) {
  const s = Math.abs(v).toFixed(digits);
  return v < -1e-9 ? '\u2212' + s : s;
}

// black box plus short grey tick marks on the inside of every edge
const boxFrame = {
  id: 'boxFrame',
  afterDraw(chart) {
    const { ctx, chartArea: a, scales: { x, y } } = chart;
    ctx.save();
    ctx.strokeStyle = '#808080';
    ctx.lineWidth = 1;
    ctx.beginPath();
    x.ticks.forEach(tk => {
      const px = x.getPixelForValue(tk.value);
      ctx.moveTo(px, a.bottom); ctx.lineTo(px, a.bottom - 4);
      ctx.moveTo(px, a.top); ctx.lineTo(px, a.top + 4);
    });
    y.ticks.forEach(tk => {
      const py = y.getPixelForValue(tk.value);
      ctx.moveTo(a.left, py); ctx.lineTo(a.left + 4 / SX, py);
      ctx.moveTo(a.right, py); ctx.lineTo(a.right - 4 / SX, py);
    });
    ctx.stroke();
    ctx.strokeStyle = '#000';
    ctx.lineWidth = 1.1;
    ctx.strokeRect(a.left, a.top, a.right - a.left, a.bottom - a.top);
    ctx.restore();
  }
};

const fig = document.getElementById('fig');

function addDiv(cls, css, html) {
  const d = document.createElement('div');
  d.className = cls;
  Object.assign(d.style, css);
  if (html) d.innerHTML = html;
  fig.appendChild(d);
  return d;
}

function legendLabel(key, err) {
  if (key === 'w') return '<i>\u03c9</i>';
  if (err) return '<i>i</i><span class="ss"><span>err</span><span>' + key + '</span></span>';
  return '<i>i</i><sub>' + key + '</sub>';
}

function drawPlot(left, top, plot, last) {
  const canvas = document.createElement('canvas');
  canvas.width = Math.ceil((Y_AXIS_W + PLOT_W) / SX) + 1;
  canvas.height = BOX_H + PAD + (last ? X_AXIS_H : PAD);
  canvas.style.left = (left / SX) + 'px';
  canvas.style.top = (top - PAD) + 'px';
  fig.appendChild(canvas);

  const n = plot.series.length;
  new Chart(canvas, {
    type: 'line',
    data: {
      labels: plot.t,
      datasets: plot.series.map(([data, color], i) => ({
        data,
        borderColor: color,
        borderWidth: Array.isArray(plot.width) ? plot.width[i] : plot.width,
        pointRadius: 0,
        fill: false,
        tension: plot.tension || 0,
        cubicInterpolationMode: plot.mono ? 'monotone' : 'default',
        borderJoinStyle: 'round',
        order: n - i
      }))
    },
    options: {
      responsive: false,
      animation: false,
      events: [],
      devicePixelRatio: 2,
      layout: { padding: { top: PAD, bottom: last ? 0 : PAD, left: 0,
                           right: canvas.width - (Y_AXIS_W + PLOT_W) / SX } },
      plugins: { legend: { display: false }, tooltip: { enabled: false } },
      scales: {
        x: {
          type: 'linear', min: 0, max: 0.2,
          afterBuildTicks: ax => { ax.ticks = xTicks.map(v => ({ value: v })); },
          afterFit: ax => {
            ax.height = last ? X_AXIS_H : 0;
            ax.paddingLeft = 0; ax.paddingRight = 0;
          },
          ticks: { display: last, padding: 8, color: '#000', font: TICK_FONT,
                   maxRotation: 0, autoSkip: false, callback: v => fmtTick(v, 2) },
          grid: { color: GRID, lineWidth: 1, drawTicks: false },
          border: { display: false, dash: [1.2, 3] }
        },
        y: {
          min: plot.range[0], max: plot.range[1],
          afterBuildTicks: ax => { ax.ticks = plot.ticks.map(v => ({ value: v })); },
          afterFit: ax => {
            ax.width = Y_AXIS_W / SX;
            ax.paddingTop = 0; ax.paddingBottom = 0;
          },
          ticks: { padding: 10 / SX, color: '#000', font: TICK_FONT, autoSkip: false,
                   callback: v => fmtTick(v, plot.digits) },
          grid: { color: GRID, lineWidth: 1, drawTicks: false },
          border: { display: false, dash: [1.2, 3] }
        }
      }
    },
    plugins: [boxFrame]
  });

  // legend box to the right of the plot
  const leg = addDiv('legend', {
    left: ((left + Y_AXIS_W + PLOT_W) / SX) + 'px', top: top + 'px',
    width: (LEG_W / SX) + 'px', height: BOX_H + 'px'
  });
  plot.series.forEach(([, color, key]) => {
    const e = document.createElement('div');
    e.className = 'entry';
    e.innerHTML = '<span class="swatch" style="width:' + (25 / SX) + 'px;margin-left:' + (10 / SX) +
      'px;background:' + color + '"></span><span class="lab" style="margin-left:' + (7 / SX) + 'px">' +
      legendLabel(key, plot.err) + '</span>';
    leg.appendChild(e);
  });

  if (last) {
    addDiv('time', { left: ((left + Y_AXIS_W + PLOT_W) / SX) + 'px', top: (top + BOX_H + 7) + 'px',
                     width: (LEG_W / SX) + 'px' }, 'Time[<i>s</i>]');
  }
}

panels.forEach(p => {
  const left = PANEL_X[p.col];
  p.plots.forEach((plot, r) => {
    drawPlot(left, PANEL_Y[p.row] + r * ROW_STEP, plot, r === p.plots.length - 1);
  });
  addDiv('caption', { left: (left / SX) + 'px', width: (600 / SX) + 'px',
                      top: (PANEL_Y[p.row] + 3 * ROW_STEP + BOX_H + 46.5) + 'px' }, p.caption);
});
</script>
</body>
</html>
